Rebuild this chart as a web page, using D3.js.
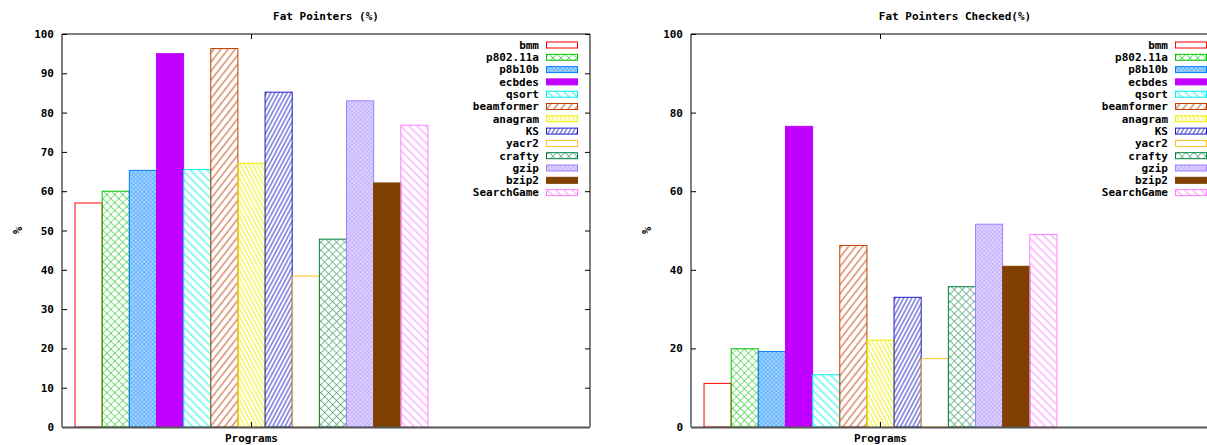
<!DOCTYPE html>
<html>
<head>
<meta charset="utf-8">
<script src="https://cdn.jsdelivr.net/npm/d3@7"></script>
<style>
  html, body { margin: 0; padding: 0; background: #fff; }
  svg { display: block; }
  text { font-family: "DejaVu Sans Mono", monospace; font-weight: bold; font-size: 11px; fill: #000; }
</style>
</head>
<body>
<svg id="chart" width="1207" height="445"></svg>
<script>
// Programs, one bar per program in a single cluster
const programs = ["bmm", "p802.11a", "p8b10b", "ecbdes", "qsort", "beamformer", "anagram",
                  "KS", "yacr2", "crafty", "gzip", "bzip2", "SearchGame"];

// Share of fat pointers, and share of fat pointers that get checked (percent)
const fatPointers = [57.0, 60.0, 65.3, 95.0, 65.5, 96.3, 67.1, 85.2, 38.4, 47.8, 83.0, 62.1, 76.8];
const fatChecked  = [11.1, 19.9, 19.2, 76.5, 13.3, 46.2, 22.1, 33.0, 17.4, 35.7, 51.6, 40.9, 49.0];

// Y tick values of each panel
const ticksLeft  = [0, 10, 20, 30, 40, 50, 60, 70, 80, 90, 100];
const ticksRight = [0, 20, 40, 60, 80, 100];

// gnuplot-like line colours and fill styles
const colors = ["#ff0000", "#00c000", "#0080ff", "#c000ff", "#00eeee", "#c04000", "#eeee00",
                "#2020c0", "#ffc020", "#008040", "#a080ff", "#804000", "#ff80ff"];
const fillKinds = [0, 1, 2, 3, 4, 5, 6, 7, 0, 1, 2, 3, 4];

const svg = d3.select("#chart");
const defs = svg.append("defs");

function makePattern(i) {
  const c = colors[i], kind = fillKinds[i], id = "pat" + i;
  if (kind === 0) return "none";
  if (kind === 3) return c;
  const p = defs.append("pattern").attr("id", id).attr("patternUnits", "userSpaceOnUse");
  if (kind === 1 || kind === 2) {
    const s = kind === 1 ? 5.6 : 3.0;
    p.attr("width", s).attr("height", s).attr("patternTransform", "rotate(45)");
    if (kind === 2) p.append("rect").attr("width", s).attr("height", s).attr("fill", c).attr("fill-opacity", 0.35);
    p.append("path").attr("d", `M0,0H${s}M0,0V${s}`)
      .attr("stroke", c).attr("stroke-width", kind === 1 ? 1.3 : 1.1)
      .attr("stroke-opacity", kind === 1 ? 0.75 : 0.6).attr("fill", "none");
  } else {
    // hatch lines: [spacing, rotation]
    const spec = { 4: [5.8, -45], 5: [5.6, 38], 6: [3.6, -28], 7: [3.6, 28] }[kind];
    const s = spec[0];
    p.attr("width", s).attr("height", s).attr("patternTransform", `rotate(${spec[1]})`);
    p.append("line").attr("x1", s / 2).attr("x2", s / 2).attr("y1", -1).attr("y2", s + 1)
      .attr("stroke", c).attr("stroke-width", 1.2).attr("stroke-opacity", 0.75);
  }
  return `url(#${id})`;
}
const fills = programs.map((d, i) => makePattern(i));

function drawPanel(opt) {
  const x0 = opt.left, x1 = opt.left + 528, yTop = 34, yBot = 427;
  const g = svg.append("g");
  // one slot per bar, cluster centred on slot 0
  const x = d3.scaleLinear().domain([-6.98, 12.47]).range([x0, x1]);
  const y = d3.scaleLinear().domain([0, 100]).range([yBot, yTop]);

  // bars
  g.selectAll("rect.bar").data(opt.values).join("rect")
    .attr("class", "bar")
    .attr("x", (d, i) => x(i - 6.5))
    .attr("width", (d, i) => x(i - 5.5) - x(i - 6.5))
    .attr("y", d => y(d))
    .attr("height", d => y(0) - y(d))
    .attr("fill", (d, i) => fills[i])
    .attr("stroke", (d, i) => colors[i])
    .attr("stroke-width", 1);

  // y axis with inward ticks, mirrored on the right
  const ax = g.append("g").attr("transform", `translate(${x0},0)`)
    .call(d3.axisLeft(y).tickValues(opt.ticks).tickSizeInner(-5).tickSizeOuter(0).tickPadding(8).tickFormat(d3.format("d")));
  ax.select(".domain").remove();
  ax.selectAll("line").attr("stroke", "#000");
  ax.selectAll("text").attr("font-family", null).attr("font-size", null);
  const axr = g.append("g").attr("transform", `translate(${x1},0)`)
    .call(d3.axisRight(y).tickValues(opt.ticks).tickSizeInner(-5).tickSizeOuter(0).tickFormat(""));
  axr.select(".domain").remove();
  axr.selectAll("line").attr("stroke", "#000");

  // cluster tick top and bottom
  g.append("line").attr("x1", x(0)).attr("x2", x(0)).attr("y1", yTop).attr("y2", yTop + 5).attr("stroke", "#000");
  g.append("line").attr("x1", x(0)).attr("x2", x(0)).attr("y1", yBot).attr("y2", yBot - 5).attr("stroke", "#000");

  // frame
  g.append("path").attr("d", `M${x0},${yBot}V${yTop}H${x1}V${yBot}`)
    .attr("fill", "none").attr("stroke", "#000").attr("stroke-width", 1);
  g.append("line").attr("x1", x0).attr("x2", x1).attr("y1", yBot + 0.5).attr("y2", yBot + 0.5)
    .attr("stroke", "#555").attr("stroke-width", 2);

  // titles
  g.append("text").attr("x", (x0 + x1) / 2).attr("y", 20).attr("text-anchor", "middle").text(opt.title);
  g.append("text").attr("x", x(0)).attr("y", 442).attr("text-anchor", "middle").text("Programs");
  g.append("text").attr("transform", `translate(${x0 - 44},${(yTop + yBot) / 2}) rotate(-90)`)
    .attr("text-anchor", "middle").attr("dy", "0.35em").style("font-size", "12px").text("%");

  // key
  const key = g.selectAll("g.key").data(programs).join("g").attr("class", "key")
    .attr("transform", (d, i) => `translate(${x0},${45 + i * 12.3})`);
  key.append("text").attr("x", 477).attr("dy", "0.35em").attr("text-anchor", "end").text(d => d);
  key.append("rect").attr("x", 484.5).attr("y", -3).attr("width", 31).attr("height", 6)
    .attr("fill", (d, i) => fills[i]).attr("stroke", (d, i) => colors[i]).attr("stroke-width", 1);
}

drawPanel({ left: 62, values: fatPointers, ticks: ticksLeft, title: "Fat Pointers (%)" });
drawPanel({ left: 691, values: fatChecked, ticks: ticksRight, title: "Fat Pointers Checked(%)" });
</script>
</body>
</html>
